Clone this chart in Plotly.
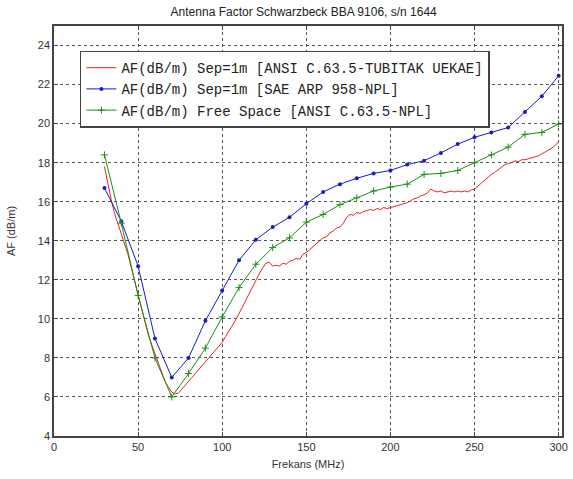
import plotly.graph_objects as go

# ---------------- data ----------------
red_freq = list(range(30, 301, 2))
red_af = [
    17.8, 16.9, 16.1, 15.4, 14.9, 14.3, 13.8, 13.3, 12.6, 11.9,
    11.3, 10.6, 9.9, 9.2, 8.7, 8.2, 7.7, 7.2, 6.8, 6.5,
    6.25, 6.15, 6.2, 6.4, 6.6, 6.85, 7.05, 7.2, 7.4, 7.6,
    7.8, 8.0, 8.2, 8.45, 8.6, 8.8, 9.1, 9.35, 9.65, 9.95,
    10.25, 10.6, 10.95, 11.3, 11.65, 11.95, 12.3, 12.6, 12.85, 12.9,
    12.7, 12.75, 12.7, 12.85, 12.8, 12.95, 13.0, 13.1, 13.05, 13.3,
    13.4, 13.55, 13.7, 13.9, 14.0, 14.15, 14.2, 14.4, 14.5, 14.65,
    14.7, 14.9, 15.2, 15.35, 15.3, 15.45, 15.4, 15.5, 15.55, 15.6,
    15.55, 15.65, 15.6, 15.7, 15.65, 15.7, 15.75, 15.8, 15.85, 15.9,
    15.95, 16.05, 16.15, 16.2, 16.3, 16.35, 16.45, 16.65, 16.55, 16.5,
    16.55, 16.45, 16.5, 16.55, 16.5, 16.55, 16.5, 16.55, 16.5, 16.6,
    16.65, 16.8, 17.0, 17.15, 17.3, 17.4, 17.5, 17.65, 17.75, 17.9,
    17.95, 18.0, 18.1, 18.05, 18.15, 18.15, 18.2, 18.25, 18.3, 18.35,
    18.45, 18.55, 18.65, 18.75, 18.9, 19.05,
]

npl_freq = [30, 40, 50, 60, 70, 80, 90, 100, 110, 120, 130, 140, 150, 160,
            170, 180, 190, 200, 210, 220, 230, 240, 250, 260, 270, 280, 290, 300]
blue_af = [16.7, 15.0, 12.7, 9.0, 7.0, 8.0, 9.9, 11.45, 13.0, 14.05, 14.7, 15.2,
           15.9, 16.5, 16.9, 17.2, 17.45, 17.6, 17.9, 18.1, 18.5, 18.95, 19.3,
           19.55, 19.8, 20.6, 21.4, 22.45]
green_af = [18.4, 14.9, 11.2, 8.0, 6.0, 7.2, 8.5, 10.1, 11.6, 12.8, 13.65, 14.15,
            14.95, 15.35, 15.85, 16.2, 16.55, 16.75, 16.9, 17.4, 17.45, 17.6,
            18.0, 18.4, 18.8, 19.45, 19.55, 19.98]

names = [
    "AF(dB/m) Sep=1m [ANSI C.63.5-TUBITAK UEKAE]",
    "AF(dB/m) Sep=1m [SAE ARP 958-NPL]",
    "AF(dB/m) Free Space [ANSI C.63.5-NPL]",
]
x_ticks = [0, 50, 100, 150, 200, 250, 300]
y_ticks = [4, 6, 8, 10, 12, 14, 16, 18, 20, 22, 24]

# ---------------- figure ----------------
fig = go.Figure()
fig.add_trace(go.Scatter(x=red_freq, y=red_af, mode="lines", name=names[0],
                         line=dict(color="#e8231f", width=1)))
fig.add_trace(go.Scatter(x=npl_freq, y=blue_af, mode="lines+markers", name=names[1],
                         line=dict(color="#1a1ad0", width=1),
                         marker=dict(symbol="circle", size=4, color="#1a1ad0")))
fig.add_trace(go.Scatter(x=npl_freq, y=green_af, mode="lines+markers", name=names[2],
                         line=dict(color="#189018", width=1),
                         marker=dict(symbol="cross-thin", size=5,
                                     line=dict(color="#189018", width=1))))

axis_common = dict(
    showline=True, linecolor="#444", linewidth=1.5, mirror="ticks",
    ticks="inside", ticklen=4, tickcolor="#444", automargin=False,
    showgrid=True, gridcolor="#555555", griddash="dot", gridwidth=1,
    zeroline=False, tickfont=dict(family="Liberation Sans", size=11, color="#333"),
)

fig.update_layout(
    width=573, height=479,
    margin=dict(l=54, r=11, t=26, b=43),
    paper_bgcolor="white", plot_bgcolor="white",
    title=dict(text="Antenna Factor Schwarzbeck BBA 9106, s/n 1644",
               x=0.53, xanchor="center", y=0.975, yanchor="middle",
               font=dict(family="Liberation Sans", size=12, color="#222")),
    xaxis=dict(range=[0, 302], tickvals=x_ticks,
               title=dict(text="Frekans (MHz)", standoff=8,
                          font=dict(family="Liberation Sans", size=11, color="#333")),
               **axis_common),
    yaxis=dict(range=[4, 25], tickvals=y_ticks,
               title=dict(text="AF (dB/m)", standoff=20,
                          font=dict(family="Liberation Sans", size=11, color="#333")),
               **axis_common),
    legend=dict(x=0.051, y=0.94, xanchor="left", yanchor="top",
                bgcolor="white", bordercolor="#444", borderwidth=1.5,
                font=dict(family="Liberation Mono", size=14, color="#222"),
                tracegroupgap=0, itemwidth=30),
    showlegend=True,
)

fig.write_html("out.html", config={"displayModeBar": False},
               post_script="document.body.style.margin='0px';document.body.style.overflow='hidden';")
